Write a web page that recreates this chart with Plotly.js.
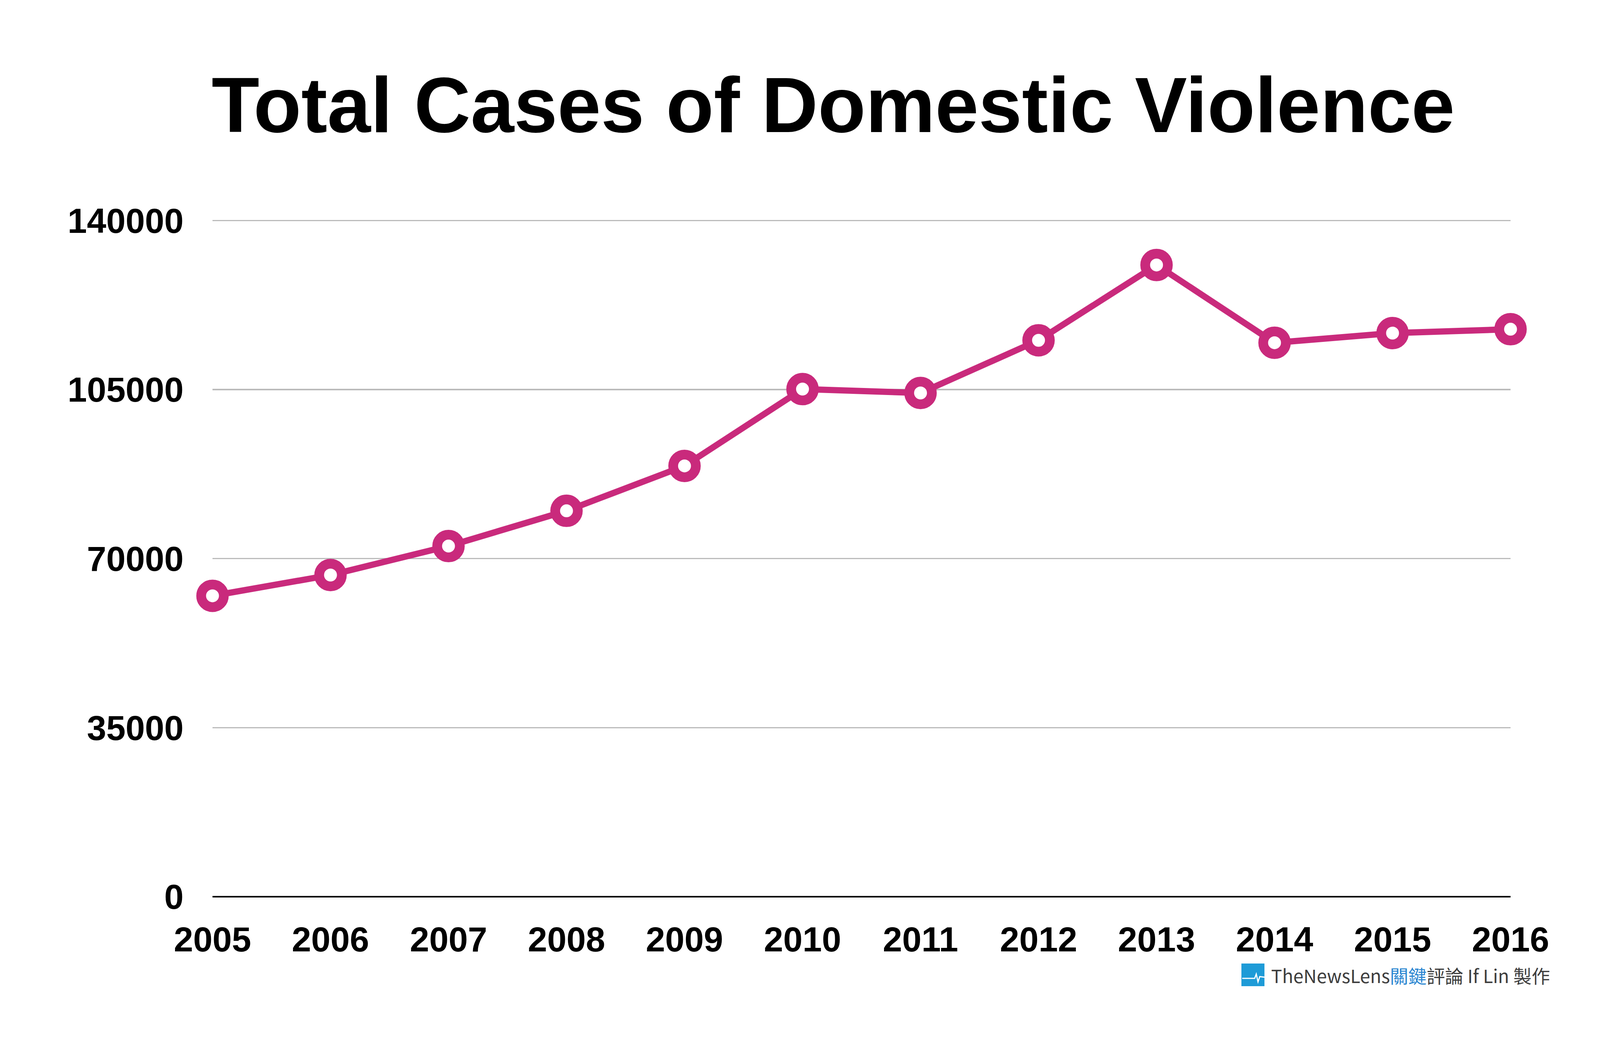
<!DOCTYPE html>
<html>
<head>
<meta charset="utf-8">
<script src="https://cdn.plot.ly/plotly-3.0.1.min.js"></script>
<style>
  html, body { margin: 0; padding: 0; background: #ffffff; }
  #chart { width: 4266px; height: 2672px; }
</style>
</head>
<body>
<div id="chart"></div>
<script>
// ---- data ----
const years = [2005, 2006, 2007, 2008, 2009, 2010, 2011, 2012, 2013, 2014, 2015, 2016];
const totalCases = [62300, 66600, 72600, 79900, 89200, 105100, 104300, 115200, 130800, 114700, 116700, 117500];
const yTickVals = [0, 35000, 70000, 105000, 140000];
const yTickText = ['0', '35000', '70000', '105000', '140000'];
const xTickText = years.map(String);
const titleText = 'Total Cases of Domestic Violence';

// ---- layout helpers (pixel -> paper) ----
const W = 4266, H = 2672;
const mL = 544, mR = W - 3867, mT = 562, mB = H - 2295;
const plotW = W - mL - mR, plotH = H - mT - mB;
const px = x => (x - mL) / plotW;
const py = y => (H - mB - y) / plotH;

const lineColor = '#C92A7C';

const trace = {
  x: years,
  y: totalCases,
  type: 'scatter',
  mode: 'lines+markers',
  line: { color: lineColor, width: 16 },
  marker: { symbol: 'circle', size: 58, color: '#ffffff', line: { color: lineColor, width: 25 } },
  cliponaxis: false,
  hoverinfo: 'skip'
};

// logo: blue square with white pulse
const logoL = 3178, logoR = 3237, logoT = 2466, logoB = 2524;
const pulse = [[3180, 2504], [3212, 2504], [3216, 2493], [3220.5, 2513], [3225, 2499.5], [3237, 2501]];
const pulsePath = 'M ' + pulse.map(p => px(p[0]).toFixed(5) + ',' + py(p[1]).toFixed(5)).join(' L ');

const layout = {
  width: W,
  height: H,
  paper_bgcolor: '#ffffff',
  plot_bgcolor: '#ffffff',
  margin: { l: mL, r: mR, t: mT, b: mB, pad: 0 },
  showlegend: false,
  title: {
    text: '<b>' + titleText + '</b>',
    font: { family: 'Liberation Sans, Arial, Helvetica, sans-serif', size: 200, color: '#000000' },
    x: 0.5, xref: 'container', xanchor: 'center',
    y: 1 - 268 / H, yref: 'container', yanchor: 'middle'
  },
  xaxis: {
    range: [2005, 2016],
    tickvals: years,
    ticktext: xTickText,
    showgrid: false,
    zeroline: false,
    showline: false,
    ticks: '',
    ticklabelstandoff: 50,
    tickfont: { family: 'Liberation Sans, Arial, Helvetica, sans-serif', size: 89, color: '#000000', weight: 'bold' },
    fixedrange: true
  },
  yaxis: {
    range: [0, 140200],
    tickvals: yTickVals,
    ticktext: yTickText,
    showgrid: true,
    gridcolor: '#bbbbbb',
    gridwidth: 3.5,
    zeroline: true,
    zerolinecolor: '#000000',
    zerolinewidth: 4,
    showline: false,
    ticks: '',
    ticklabelstandoff: 73,
    tickfont: { family: 'Liberation Sans, Arial, Helvetica, sans-serif', size: 89, color: '#000000', weight: 'bold' },
    fixedrange: true
  },
  shapes: [
    { type: 'rect', xref: 'paper', yref: 'paper', x0: px(logoL), x1: px(logoR), y0: py(logoB), y1: py(logoT),
      fillcolor: '#1E9BD7', line: { width: 0 }, layer: 'above' },
    { type: 'path', xref: 'paper', yref: 'paper', path: pulsePath, line: { color: '#ffffff', width: 3 }, layer: 'above' }
  ],
  annotations: [
    {
      xref: 'paper', yref: 'paper',
      x: px(3252), y: py(2495), xanchor: 'left', yanchor: 'middle',
      showarrow: false,
      text: 'TheNewsLens<span style="color:#2A86D1">關鍵</span>評論 If Lin 製作',
      font: { family: 'Noto Sans CJK TC, Noto Sans, sans-serif', size: 47, color: '#3d3d3d' }
    }
  ]
};

Plotly.newPlot('chart', [trace], layout, { staticPlot: true, displayModeBar: false });
</script>
</body>
</html>
